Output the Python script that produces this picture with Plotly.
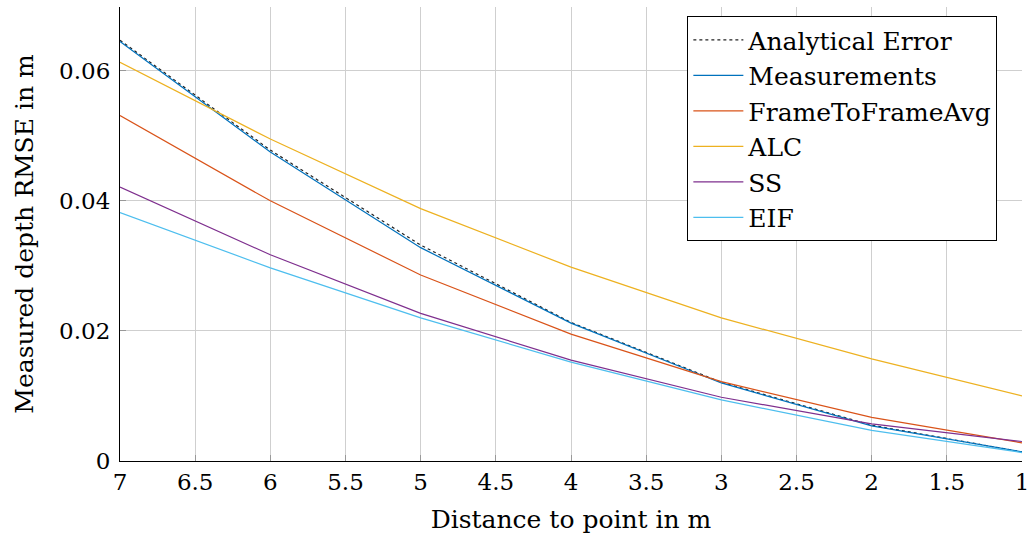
import plotly.graph_objects as go

# distance to the observed point (m)
distance = [7, 6, 5, 4, 3, 2, 1]

# depth RMSE per method (m)
analytical = [0.0647, 0.0478, 0.0332, 0.0213, 0.0121, 0.0055, 0.0014]
measurements = [0.0645, 0.0475, 0.0328, 0.0212, 0.0120, 0.0054, 0.0014]
frame_to_frame = [0.0531, 0.0400, 0.0286, 0.0195, 0.0122, 0.0067, 0.0028]
alc = [0.0613, 0.0495, 0.0388, 0.0298, 0.0220, 0.0157, 0.0100]
ss = [0.0421, 0.0317, 0.0227, 0.0155, 0.0098, 0.0057, 0.0030]
eif = [0.0382, 0.0297, 0.0220, 0.0152, 0.0094, 0.0047, 0.0013]

x_ticks = [7, 6.5, 6, 5.5, 5, 4.5, 4, 3.5, 3, 2.5, 2, 1.5, 1]
y_ticks = [0, 0.02, 0.04, 0.06]

FONT = "DejaVu Serif"
TICK_FONT = dict(family=FONT, size=23, color="black")
LABEL_FONT = dict(family=FONT, size=25, color="black")

series = [
    ("Analytical Error", analytical, "#222222", "dot"),
    ("Measurements", measurements, "#0072BD", "solid"),
    ("FrameToFrameAvg", frame_to_frame, "#D95319", "solid"),
    ("ALC", alc, "#EDB120", "solid"),
    ("SS", ss, "#7E2F8E", "solid"),
    ("EIF", eif, "#4DBEEE", "solid"),
]

fig = go.Figure()
for name, values, color, dash in series:
    fig.add_trace(go.Scatter(
        x=distance, y=values, name=name, mode="lines",
        line=dict(color=color, width=1.2, dash=dash),
    ))

fig.update_layout(
    width=1033, height=538,
    margin=dict(l=120, r=4, t=7, b=77),
    paper_bgcolor="white", plot_bgcolor="white",
    font=dict(family=FONT, size=25, color="black"),
    legend=dict(
        x=0.629, y=0.98, xanchor="left", yanchor="top",
        bgcolor="white", bordercolor="black", borderwidth=1,
        font=LABEL_FONT, itemwidth=50,
        tracegroupgap=0,
    ),
    showlegend=True,
)

fig.update_xaxes(
    range=[7, 1], tickvals=x_ticks, ticktext=[f"{v:g}" for v in x_ticks],
    tickfont=TICK_FONT, ticklabeloverflow="allow",
    showgrid=True, gridcolor="#cfcfcf", gridwidth=1,
    showline=True, linecolor="black", linewidth=1.2,
    ticks="inside", ticklen=6, tickcolor="#999999",
    zeroline=False,
    title=dict(text="Distance to point in m", standoff=16, font=LABEL_FONT),
)
fig.update_yaxes(
    range=[0, 0.0698], tickvals=y_ticks, ticktext=[f"{v:g}" for v in y_ticks],
    tickfont=TICK_FONT, ticklabelstandoff=4,
    showgrid=True, gridcolor="#cfcfcf", gridwidth=1,
    showline=True, linecolor="black", linewidth=1.2,
    ticks="inside", ticklen=6, tickcolor="#999999",
    zeroline=False,
    title=dict(text="Measured depth RMSE in m", standoff=18, font=LABEL_FONT),
)

fig.write_html("out.html")
